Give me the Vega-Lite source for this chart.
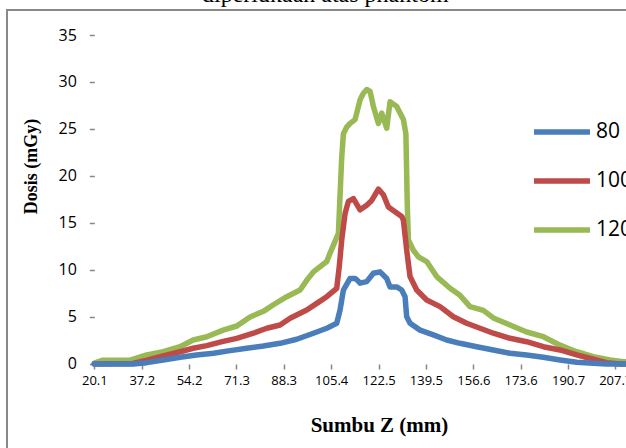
{
  "$schema": "https://vega.github.io/schema/vega-lite/v6.json",
  "autosize": "none",
  "padding": {"left": 7, "top": 10, "right": 0, "bottom": 0},
  "width": 640,
  "height": 460,
  "background": "white",
  "config": {
    "view": {"stroke": "#898989", "strokeWidth": 2},
    "font": "Open Sans"
  },
  "title": {
    "text": "diperlukaan atas phantom",
    "font": "Liberation Serif",
    "fontSize": 24,
    "fontWeight": "normal",
    "color": "#000000",
    "anchor": "start",
    "frame": "group",
    "dx": 195,
    "dy": 21.5,
    "baseline": "alphabetic",
    "offset": 6
  },
  "datasets": {
    "dose": [
      {"z": 20.1, "kV": "120", "dose": 0.1},
      {"z": 23.2, "kV": "120", "dose": 0.4},
      {"z": 33.0, "kV": "120", "dose": 0.4},
      {"z": 39.0, "kV": "120", "dose": 0.96},
      {"z": 44.9, "kV": "120", "dose": 1.3},
      {"z": 51.0, "kV": "120", "dose": 1.84},
      {"z": 55.7, "kV": "120", "dose": 2.55},
      {"z": 60.6, "kV": "120", "dose": 2.9},
      {"z": 66.5, "kV": "120", "dose": 3.6},
      {"z": 71.4, "kV": "120", "dose": 4.04},
      {"z": 76.2, "kV": "120", "dose": 5.0},
      {"z": 81.0, "kV": "120", "dose": 5.6},
      {"z": 84.6, "kV": "120", "dose": 6.3},
      {"z": 89.4, "kV": "120", "dose": 7.16},
      {"z": 94.2, "kV": "120", "dose": 7.87},
      {"z": 96.6, "kV": "120", "dose": 8.9},
      {"z": 99.0, "kV": "120", "dose": 9.8},
      {"z": 103.8, "kV": "120", "dose": 10.9},
      {"z": 105.0, "kV": "120", "dose": 11.8},
      {"z": 108.0, "kV": "120", "dose": 13.9},
      {"z": 108.6, "kV": "120", "dose": 18.0},
      {"z": 109.2, "kV": "120", "dose": 22.0},
      {"z": 109.8, "kV": "120", "dose": 24.5},
      {"z": 111.0, "kV": "120", "dose": 25.2},
      {"z": 112.2, "kV": "120", "dose": 25.6},
      {"z": 114.0, "kV": "120", "dose": 26.0},
      {"z": 115.8, "kV": "120", "dose": 28.1},
      {"z": 117.0, "kV": "120", "dose": 28.8},
      {"z": 118.2, "kV": "120", "dose": 29.2},
      {"z": 119.4, "kV": "120", "dose": 29.0},
      {"z": 120.6, "kV": "120", "dose": 27.4},
      {"z": 122.4, "kV": "120", "dose": 25.6},
      {"z": 123.6, "kV": "120", "dose": 26.7},
      {"z": 125.4, "kV": "120", "dose": 25.1},
      {"z": 126.6, "kV": "120", "dose": 27.9},
      {"z": 129.0, "kV": "120", "dose": 27.4},
      {"z": 131.4, "kV": "120", "dose": 26.0},
      {"z": 132.3, "kV": "120", "dose": 24.5},
      {"z": 132.8, "kV": "120", "dose": 17.0},
      {"z": 133.2, "kV": "120", "dose": 13.2},
      {"z": 135.0, "kV": "120", "dose": 12.1},
      {"z": 136.8, "kV": "120", "dose": 11.4},
      {"z": 139.8, "kV": "120", "dose": 10.9},
      {"z": 143.4, "kV": "120", "dose": 9.3},
      {"z": 148.2, "kV": "120", "dose": 8.05},
      {"z": 151.8, "kV": "120", "dose": 7.3},
      {"z": 155.4, "kV": "120", "dose": 6.1},
      {"z": 160.2, "kV": "120", "dose": 5.7},
      {"z": 163.8, "kV": "120", "dose": 4.9},
      {"z": 169.8, "kV": "120", "dose": 4.15},
      {"z": 175.8, "kV": "120", "dose": 3.4},
      {"z": 181.8, "kV": "120", "dose": 2.9},
      {"z": 187.8, "kV": "120", "dose": 2.0},
      {"z": 193.8, "kV": "120", "dose": 1.3},
      {"z": 199.8, "kV": "120", "dose": 0.78},
      {"z": 205.8, "kV": "120", "dose": 0.43},
      {"z": 210.6, "kV": "120", "dose": 0.25},
      {"z": 214.0, "kV": "120", "dose": 0.2},

      {"z": 20.1, "kV": "100", "dose": 0.0},
      {"z": 34.0, "kV": "100", "dose": 0.05},
      {"z": 39.0, "kV": "100", "dose": 0.4},
      {"z": 44.9, "kV": "100", "dose": 0.85},
      {"z": 51.0, "kV": "100", "dose": 1.3},
      {"z": 55.7, "kV": "100", "dose": 1.67},
      {"z": 60.6, "kV": "100", "dose": 1.95},
      {"z": 66.5, "kV": "100", "dose": 2.4},
      {"z": 71.4, "kV": "100", "dose": 2.73},
      {"z": 77.4, "kV": "100", "dose": 3.27},
      {"z": 82.2, "kV": "100", "dose": 3.8},
      {"z": 87.0, "kV": "100", "dose": 4.15},
      {"z": 90.6, "kV": "100", "dose": 4.86},
      {"z": 96.6, "kV": "100", "dose": 5.74},
      {"z": 100.2, "kV": "100", "dose": 6.45},
      {"z": 103.8, "kV": "100", "dose": 7.16},
      {"z": 107.4, "kV": "100", "dose": 8.05},
      {"z": 108.3, "kV": "100", "dose": 10.35},
      {"z": 109.2, "kV": "100", "dose": 13.2},
      {"z": 110.4, "kV": "100", "dose": 16.0},
      {"z": 111.6, "kV": "100", "dose": 17.3},
      {"z": 113.4, "kV": "100", "dose": 17.6},
      {"z": 115.8, "kV": "100", "dose": 16.4},
      {"z": 118.2, "kV": "100", "dose": 16.9},
      {"z": 120.0, "kV": "100", "dose": 17.4},
      {"z": 122.4, "kV": "100", "dose": 18.6},
      {"z": 124.2, "kV": "100", "dose": 18.0},
      {"z": 126.0, "kV": "100", "dose": 16.7},
      {"z": 128.4, "kV": "100", "dose": 16.2},
      {"z": 130.8, "kV": "100", "dose": 15.7},
      {"z": 131.4, "kV": "100", "dose": 15.3},
      {"z": 132.6, "kV": "100", "dose": 12.1},
      {"z": 133.8, "kV": "100", "dose": 9.3},
      {"z": 136.2, "kV": "100", "dose": 7.87},
      {"z": 139.8, "kV": "100", "dose": 6.8},
      {"z": 144.6, "kV": "100", "dose": 6.1},
      {"z": 149.4, "kV": "100", "dose": 5.03},
      {"z": 154.2, "kV": "100", "dose": 4.33},
      {"z": 159.0, "kV": "100", "dose": 3.8},
      {"z": 163.8, "kV": "100", "dose": 3.27},
      {"z": 169.8, "kV": "100", "dose": 2.73},
      {"z": 175.8, "kV": "100", "dose": 2.37},
      {"z": 181.8, "kV": "100", "dose": 1.84},
      {"z": 187.8, "kV": "100", "dose": 1.49},
      {"z": 193.8, "kV": "100", "dose": 0.96},
      {"z": 199.8, "kV": "100", "dose": 0.5},
      {"z": 204.6, "kV": "100", "dose": 0.14},
      {"z": 209.4, "kV": "100", "dose": 0.0},
      {"z": 214.0, "kV": "100", "dose": 0.0},

      {"z": 20.1, "kV": "80", "dose": 0.0},
      {"z": 34.1, "kV": "80", "dose": 0.0},
      {"z": 39.0, "kV": "80", "dose": 0.14},
      {"z": 44.9, "kV": "80", "dose": 0.43},
      {"z": 51.0, "kV": "80", "dose": 0.71},
      {"z": 56.9, "kV": "80", "dose": 0.96},
      {"z": 63.0, "kV": "80", "dose": 1.14},
      {"z": 69.0, "kV": "80", "dose": 1.42},
      {"z": 75.0, "kV": "80", "dose": 1.67},
      {"z": 81.0, "kV": "80", "dose": 1.91},
      {"z": 87.0, "kV": "80", "dose": 2.2},
      {"z": 93.0, "kV": "80", "dose": 2.63},
      {"z": 99.0, "kV": "80", "dose": 3.27},
      {"z": 103.8, "kV": "80", "dose": 3.8},
      {"z": 107.4, "kV": "80", "dose": 4.33},
      {"z": 108.6, "kV": "80", "dose": 5.74},
      {"z": 109.8, "kV": "80", "dose": 7.87},
      {"z": 112.2, "kV": "80", "dose": 9.1},
      {"z": 114.0, "kV": "80", "dose": 9.1},
      {"z": 115.2, "kV": "80", "dose": 8.8},
      {"z": 115.8, "kV": "80", "dose": 8.6},
      {"z": 118.2, "kV": "80", "dose": 8.76},
      {"z": 120.6, "kV": "80", "dose": 9.65},
      {"z": 123.0, "kV": "80", "dose": 9.8},
      {"z": 125.4, "kV": "80", "dose": 9.1},
      {"z": 126.6, "kV": "80", "dose": 8.2},
      {"z": 129.0, "kV": "80", "dose": 8.2},
      {"z": 130.8, "kV": "80", "dose": 7.87},
      {"z": 132.0, "kV": "80", "dose": 7.16},
      {"z": 132.6, "kV": "80", "dose": 5.03},
      {"z": 133.8, "kV": "80", "dose": 4.33},
      {"z": 137.4, "kV": "80", "dose": 3.6},
      {"z": 142.2, "kV": "80", "dose": 3.1},
      {"z": 147.0, "kV": "80", "dose": 2.55},
      {"z": 151.8, "kV": "80", "dose": 2.2},
      {"z": 157.8, "kV": "80", "dose": 1.84},
      {"z": 163.8, "kV": "80", "dose": 1.49},
      {"z": 169.8, "kV": "80", "dose": 1.14},
      {"z": 175.8, "kV": "80", "dose": 0.96},
      {"z": 181.8, "kV": "80", "dose": 0.71},
      {"z": 187.8, "kV": "80", "dose": 0.43},
      {"z": 193.8, "kV": "80", "dose": 0.18},
      {"z": 199.8, "kV": "80", "dose": 0.07},
      {"z": 204.6, "kV": "80", "dose": 0.0},
      {"z": 214.0, "kV": "80", "dose": 0.0}
    ]
  },
  "layer": [
    {
      "mark": {"type": "rule", "color": "#868686", "strokeWidth": 1.5},
      "encoding": {
        "x": {"datum": 20.1, "type": "quantitative"},
        "y": {"datum": 0, "type": "quantitative"},
        "y2": {"datum": 35}
      }
    },
    {
      "mark": {"type": "rule", "color": "#868686", "strokeWidth": 1.5},
      "encoding": {
        "y": {"datum": 0, "type": "quantitative"},
        "x": {"datum": 20.1, "type": "quantitative"},
        "x2": {"datum": 219}
      }
    },
    {
      "data": {"name": "dose"},
      "mark": {"type": "line", "strokeWidth": 5.5, "strokeJoin": "round", "strokeCap": "round"},
      "encoding": {
        "x": {
          "field": "z",
          "type": "quantitative",
          "scale": {"domain": [-11.34, 219.13], "nice": false, "zero": false},
          "axis": {
            "values": [20.1, 37.2, 54.2, 71.3, 88.3, 105.4, 122.5, 139.5, 156.6, 173.6, 190.7, 207.7],
            "format": ".1f",
            "offset": -106,
            "domain": false,
            "grid": false,
            "ticks": true,
            "tickColor": "#868686",
            "tickWidth": 1.5,
            "tickSize": 5,
            "labelFont": "Open Sans",
            "labelFontSize": 13,
            "labelColor": "#000000",
            "labelPadding": 5,
            "labelOverlap": false,
            "labelBound": false,
            "labelFlush": false,
            "title": "Sumbu Z (mm)",
            "titleFont": "Liberation Serif",
            "titleFontSize": 21,
            "titleFontWeight": "bold",
            "titleColor": "#000000",
            "titleX": 372,
            "titleY": 61,
            "titleBaseline": "middle",
            "titleAlign": "center"
          }
        },
        "y": {
          "field": "dose",
          "type": "quantitative",
          "scale": {"domain": [-11.28, 37.66], "nice": false, "zero": false},
          "axis": {
            "values": [0, 5, 10, 15, 20, 25, 30, 35],
            "offset": -87.3,
            "domain": false,
            "grid": false,
            "tickColor": "#868686",
            "tickWidth": 1.5,
            "tickSize": 5,
            "labelFont": "Open Sans",
            "labelFontSize": 16,
            "labelColor": "#000000",
            "labelPadding": 13,
            "labelBound": false,
            "labelFlush": false,
            "title": "Dosis (mGy)",
            "titleFont": "Liberation Serif",
            "titleFontSize": 18,
            "titleFontWeight": "bold",
            "titleColor": "#000000",
            "titleX": -63,
            "titleY": 156,
            "titleBaseline": "middle",
            "titleAlign": "center",
            "titleAngle": -90
          }
        },
        "color": {
          "field": "kV",
          "type": "nominal",
          "sort": ["80", "100", "120"],
          "scale": {"domain": ["80", "100", "120"], "range": ["#4A7EBB", "#BE4B48", "#98B954"]},
          "legend": {
            "title": null,
            "orient": "none",
            "legendX": 524,
            "legendY": 91,
            "symbolType": "stroke",
            "symbolStrokeWidth": 5.5,
            "symbolSize": 3136,
            "labelFont": "Open Sans",
            "labelFontSize": 21,
            "labelColor": "#000000",
            "labelOffset": 3,
            "rowPadding": 7
          }
        }
      }
    }
  ]
}
